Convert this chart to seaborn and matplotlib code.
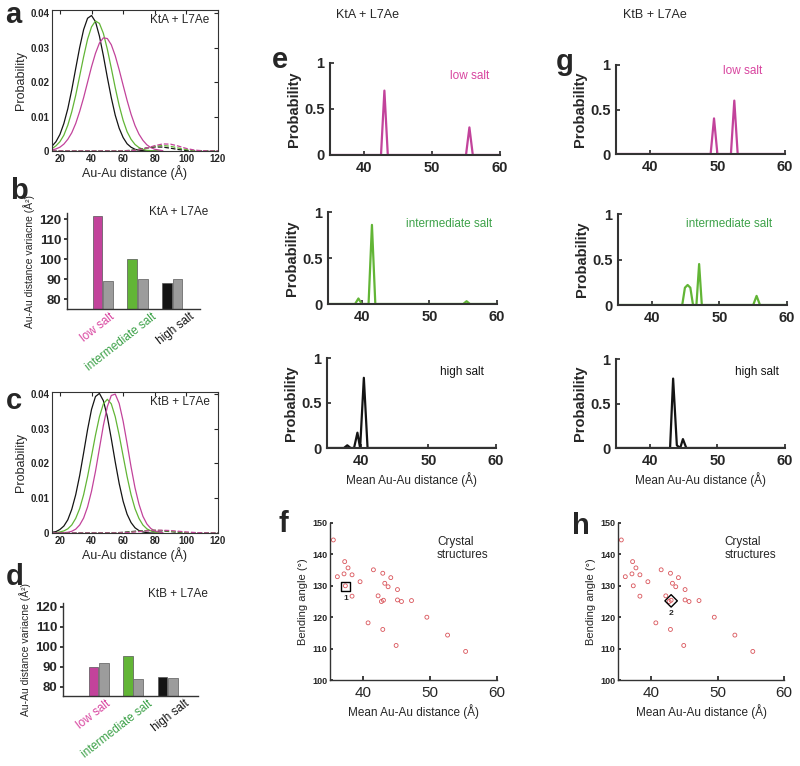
import matplotlib
matplotlib.use("Agg")
import matplotlib.pyplot as plt
import matplotlib.transforms as mtransforms
import pandas as pd
import seaborn as sns

MAGENTA = "#c2439b"
GREEN = "#62b536"
BLACK = "#141414"
GREY = "#9c9c9c"
PINK_TXT = "#d8449f"
GREEN_TXT = "#3ea24a"
RED = "#d9545a"

# ---- panels a / c: Au-Au distance distributions ----
dist_x = [15, 17.5, 20, 22.5, 25, 27.5, 30, 32.5, 35, 37.5, 40, 42.5, 45, 47.5, 50,
          52.5, 55, 57.5, 60, 62.5, 65, 67.5, 70, 72.5, 75, 77.5, 80, 82.5, 85]
a_black = [0.0014, 0.0027, 0.0048, 0.0080, 0.0123, 0.0178, 0.0240, 0.0301, 0.0353, 0.0386,
           0.0394, 0.0376, 0.0334, 0.0277, 0.0214, 0.0155, 0.0104, 0.0066, 0.0039, 0.0021,
           0.0011, 0.0005, 0.0002, 0.0001, 0, 0, 0, 0, 0]
a_green = [0.0007, 0.0015, 0.0027, 0.0046, 0.0075, 0.0114, 0.0162, 0.0218, 0.0274, 0.0325,
           0.0361, 0.0378, 0.0371, 0.0342, 0.0296, 0.0241, 0.0184, 0.0132, 0.0089, 0.0056,
           0.0034, 0.0019, 0.0010, 0.0005, 0.0002, 0.0001, 0, 0, 0]
a_magenta = [0.0003, 0.0006, 0.0011, 0.0020, 0.0034, 0.0053, 0.0080, 0.0115, 0.0155, 0.0200,
             0.0245, 0.0284, 0.0314, 0.0329, 0.0327, 0.0309, 0.0277, 0.0236, 0.0191, 0.0147,
             0.0107, 0.0074, 0.0049, 0.0031, 0.0018, 0.0010, 0.0005, 0.0003, 0.0001]
c_black = [0.0002, 0.0004, 0.0010, 0.0020, 0.0038, 0.0068, 0.0110, 0.0165, 0.0230, 0.0297,
           0.0355, 0.0392, 0.0401, 0.0380, 0.0334, 0.0271, 0.0204, 0.0142, 0.0091, 0.0054,
           0.0030, 0.0015, 0.0007, 0.0003, 0.0001, 0, 0, 0, 0]
c_green = [0, 0.0001, 0.0003, 0.0006, 0.0012, 0.0023, 0.0042, 0.0070, 0.0110, 0.0162,
           0.0221, 0.0281, 0.0334, 0.0371, 0.0384, 0.0371, 0.0334, 0.0281, 0.0221, 0.0162,
           0.0110, 0.0070, 0.0042, 0.0023, 0.0012, 0.0006, 0.0003, 0.0001, 0]
c_magenta = [0, 0, 0, 0.0001, 0.0002, 0.0005, 0.0011, 0.0023, 0.0043, 0.0075,
             0.0120, 0.0177, 0.0243, 0.0309, 0.0363, 0.0395, 0.0399, 0.0372, 0.0321, 0.0257,
             0.0190, 0.0130, 0.0083, 0.0048, 0.0026, 0.0013, 0.0006, 0.0003, 0.0001]

dash_x = [15, 55, 60, 65, 70, 75, 80, 85, 90, 95, 100, 105, 110, 115, 120]
a_dash_magenta = [0, 0, 0, 0.0001, 0.00035, 0.00086, 0.00155, 0.00205, 0.00199, 0.00142,
                  0.00074, 0.00028, 0.00008, 0, 0]
a_dash_green = [0, 0, 0.00003, 0.00014, 0.0004, 0.00086, 0.00137, 0.0016, 0.00137, 0.00086,
                0.0004, 0.00014, 0.00003, 0, 0]
a_dash_black = [0, 0.00001, 0.00006, 0.0002, 0.00049, 0.00089, 0.00117, 0.00114, 0.00081,
                0.00042, 0.00016, 0.00005, 0, 0, 0]
c_dash_magenta = [0, 0, 0.00005, 0.0002, 0.0004, 0.0006, 0.0008, 0.0008, 0.0007, 0.0005,
                  0.0003, 0.00015, 0.00005, 0, 0]
c_dash_green = [0, 0, 0.0001, 0.0003, 0.0005, 0.0007, 0.0008, 0.0007, 0.0005, 0.0003,
                0.00015, 0.00005, 0, 0, 0]
c_dash_black = [0, 0.00005, 0.0002, 0.0004, 0.0006, 0.0007, 0.0007, 0.0006, 0.0004, 0.0002,
                0.0001, 0.00003, 0, 0, 0]

# ---- panels b / d: distance variance ----
salt_levels = ["low salt", "intermediate salt", "high salt"]
b_sim = [121.6, 100.0, 88.3]
b_ref = [89.2, 90.3, 90.1]
d_sim = [89.7, 95.5, 85.0]
d_ref = [91.7, 83.8, 84.3]

# ---- panels e / g: mean distance histograms ----
e_low_x = [35, 42.5, 43, 43.5, 55, 55.5, 56, 60]
e_low_y = [0, 0, 0.70, 0, 0, 0.30, 0, 0]
e_mid_x = [35, 39, 39.5, 40, 41, 41.5, 42, 55, 55.5, 56, 60]
e_mid_y = [0, 0, 0.06, 0, 0, 0.86, 0, 0, 0.03, 0, 0]
e_high_x = [35, 37.5, 38, 38.5, 39, 39.5, 39.9, 40.45, 41, 60]
e_high_y = [0, 0, 0.03, 0, 0, 0.17, 0, 0.78, 0, 0]
g_low_x = [35, 49, 49.5, 50, 52, 52.5, 53, 60]
g_low_y = [0, 0, 0.40, 0, 0, 0.60, 0, 0]
g_mid_x = [35, 44.5, 44.9, 45.3, 45.7, 46.1, 46.6, 47, 47.4, 55, 55.5, 56, 60]
g_mid_y = [0, 0, 0.19, 0.22, 0.19, 0, 0, 0.45, 0, 0, 0.10, 0, 0]
g_high_x = [35, 43, 43.45, 44, 44.5, 44.9, 45.4, 60]
g_high_y = [0, 0, 0.78, 0.03, 0, 0.10, 0, 0]

# ---- panels f / h: crystal structures ----
crystal_dist = [35.5, 37.2, 37.7, 36.1, 37.1, 38.3, 39.5, 37.3, 38.3, 41.5, 42.9, 44.1, 43.2,
                43.7, 45.1, 42.2, 42.7, 43.0, 45.1, 45.7, 47.2, 49.5, 40.7, 42.9, 52.6, 44.9, 55.3]
crystal_angle = [144.6, 137.7, 135.7, 132.9, 133.8, 133.5, 131.3, 130.0, 126.7, 135.1, 134.0,
                 132.6, 130.8, 129.7, 128.8, 126.8, 125.0, 125.4, 125.5, 125.0, 125.3, 120.0,
                 118.2, 116.1, 114.3, 111.0, 109.1]
f_pick = (37.3, 129.8)
h_pick = (43.0, 125.2)

sns.set_theme(style="white")
plt.rcParams["font.family"] = ["Liberation Sans", "DejaVu Sans"]
plt.rcParams["axes.edgecolor"] = "#333333"

fig = plt.figure(figsize=(8, 7.66), dpi=100)
W, H = 800, 766


def add_ax(left, top, right, bottom):
    return fig.add_axes([left / W, 1 - bottom / H, (right - left) / W, (bottom - top) / H])


def dist_panel(ax, solids, dashes, tag):
    for ys, col in solids:
        sns.lineplot(x=dist_x, y=ys, color=col, lw=0.9, ax=ax, estimator=None, sort=False)
    for ys, col in dashes:
        sns.lineplot(x=dash_x, y=ys, color=col, lw=0.9, ls="--", ax=ax,
                     estimator=None, sort=False)
    ax.set_xlim(15, 120)
    ax.set_xticks([20, 40, 60, 80, 100, 120])
    ax.set_yticks([0, 0.01, 0.02, 0.03, 0.04])
    ax.set_yticklabels(["0", "0.01", "0.02", "0.03", "0.04"])
    ax.tick_params(direction="in", top=True, right=True, length=3, width=0.8,
                   labelsize=7, pad=2)
    for t in ax.get_xticklabels() + ax.get_yticklabels():
        t.set_fontweight("bold")
    for s in ax.spines.values():
        s.set_linewidth(0.8)
    ax.set_ylabel("Probability", fontsize=9, labelpad=2)
    ax.text(0.95, 0.93, tag, transform=ax.transAxes, ha="right", va="center", fontsize=8.5)


def bar_panel(ax, sim, ref, ylim, xlim):
    df = pd.DataFrame({"salt": salt_levels * 2, "value": sim + ref,
                       "series": ["sim"] * 3 + ["ref"] * 3})
    sns.barplot(data=df, x="salt", y="value", hue="series", order=salt_levels,
                hue_order=["sim", "ref"], palette=[MAGENTA, GREY], width=0.6, gap=0.06,
                saturation=1, legend=False, ax=ax)
    for patch, col in zip(ax.containers[0], [MAGENTA, GREEN, BLACK]):
        patch.set_facecolor(col)
        patch.set_edgecolor("#555555")
        patch.set_linewidth(0.5)
    for patch in ax.containers[1]:
        patch.set_edgecolor("#6e6e6e")
        patch.set_linewidth(0.6)
    ax.set_ylim(*ylim)
    ax.set_xlim(*xlim)
    ax.set_yticks([80, 90, 100, 110, 120])
    ax.tick_params(axis="y", labelsize=9.5, length=2, pad=2, left=True, direction="out")
    ax.tick_params(axis="x", length=0, pad=1)
    for t in ax.get_yticklabels():
        t.set_fontweight("bold")
    ax.set_xlabel("")
    ax.set_ylabel("Au-Au distance variacne (Å²)", fontsize=7.5, labelpad=3)
    sns.despine(ax=ax)
    for s in ["left", "bottom"]:
        ax.spines[s].set_linewidth(1.0)
    ax.set_xticks(range(3))
    ax.set_xticklabels(salt_levels, rotation=38, ha="right", rotation_mode="anchor",
                       fontsize=8.5)
    for t, col, dx in zip(ax.get_xticklabels(), [PINK_TXT, GREEN_TXT, BLACK], [7, 14, 17]):
        t.set_color(col)
        shift = mtransforms.ScaledTranslation(dx / 100, 0, fig.dpi_scale_trans)
        t.set_transform(t.get_transform() + shift)


def hist_panel(ax, xs, ys, col, label, label_col, label_pos, show_xlabel=False):
    sns.lineplot(x=xs, y=ys, color=col, lw=1.6, ax=ax, estimator=None, sort=False)
    ax.set_xlim(35, 60)
    ax.set_ylim(0, 1)
    ax.set_xticks([40, 50, 60])
    ax.set_yticks([0, 0.5, 1])
    ax.set_yticklabels(["0", "0.5", "1"])
    ax.tick_params(direction="in", length=3, width=1.2, labelsize=10.5, pad=4,
                   left=True, bottom=True)
    for t in ax.get_xticklabels() + ax.get_yticklabels():
        t.set_fontweight("bold")
    sns.despine(ax=ax)
    for s in ["left", "bottom"]:
        ax.spines[s].set_linewidth(1.5)
    ax.set_ylabel("Probability", fontsize=10.5, fontweight="bold", labelpad=2)
    ax.text(label_pos[0], label_pos[1], label, transform=ax.transAxes, ha="center",
            va="center", fontsize=8.5, color=label_col)
    if show_xlabel:
        ax.set_xlabel("Mean Au-Au distance (Å)", fontsize=8.5, labelpad=3)


def crystal_panel(ax, pick, marker, num):
    sns.scatterplot(x=crystal_dist, y=crystal_angle, marker="o", s=8, facecolor="none",
                    edgecolor=RED, linewidth=0.6, ax=ax)
    sns.scatterplot(x=[pick[0]], y=[pick[1]], marker=marker, s=40, facecolor="none",
                    edgecolor="black", linewidth=1.0, ax=ax)
    ax.annotate(num, pick, xytext=(0, -9), textcoords="offset points", ha="center",
                va="center", fontsize=6, fontweight="bold")
    ax.set_xlim(35, 60)
    ax.set_ylim(100, 150)
    ax.set_xticks([40, 50, 60])
    ax.set_yticks([100, 110, 120, 130, 140, 150])
    ax.tick_params(axis="y", direction="in", length=2, labelsize=6.5, pad=2, left=True)
    ax.tick_params(axis="x", direction="in", length=3, labelsize=11, pad=4, bottom=True)
    for t in ax.get_yticklabels():
        t.set_fontweight("bold")
    sns.despine(ax=ax)
    for s in ["left", "bottom"]:
        ax.spines[s].set_linewidth(1.0)
    ax.set_ylabel("Bending angle (°)", fontsize=8, labelpad=3)
    ax.set_xlabel("Mean Au-Au distance (Å)", fontsize=8.5, labelpad=3)
    ax.text(0.64, 0.84, "Crystal\nstructures", transform=ax.transAxes, ha="left",
            va="center", fontsize=8.5, linespacing=1.1)


# a
ax_a = add_ax(52, 10, 218, 151)
dist_panel(ax_a, [(a_black, BLACK), (a_green, GREEN), (a_magenta, MAGENTA)],
           [(a_dash_black, BLACK), (a_dash_green, GREEN), (a_dash_magenta, MAGENTA)],
           "KtA + L7Ae")
ax_a.set_ylim(0, 0.041)
ax_a.set_xlabel("Au-Au distance (Å)", fontsize=9, labelpad=1)

# b
ax_b = add_ax(67, 213, 200, 309)
bar_panel(ax_b, b_sim, b_ref, (75.2, 123.2), (-1.03, 2.8))
fig.text(208 / W, 1 - 212 / H, "KtA + L7Ae", ha="right", va="center", fontsize=8.5)

# c
ax_c = add_ax(52, 392, 218, 533)
dist_panel(ax_c, [(c_black, BLACK), (c_green, GREEN), (c_magenta, MAGENTA)],
           [(c_dash_black, BLACK), (c_dash_green, GREEN), (c_dash_magenta, MAGENTA)],
           "KtB + L7Ae")
ax_c.set_ylim(0, 0.0405)
ax_c.set_xlabel("Au-Au distance (Å)", fontsize=9, labelpad=1)

# d
ax_d = add_ax(63, 603, 198, 696)
bar_panel(ax_d, d_sim, d_ref, (75.3, 121.9), (-1.03, 2.88))
fig.text(208 / W, 1 - 594 / H, "KtB + L7Ae", ha="right", va="center", fontsize=8.5)

# e
ax_e1 = add_ax(330, 63, 500, 155)
hist_panel(ax_e1, e_low_x, e_low_y, MAGENTA, "low salt", PINK_TXT, (0.82, 0.86))
ax_e2 = add_ax(328, 212, 497, 304)
hist_panel(ax_e2, e_mid_x, e_mid_y, GREEN, "intermediate salt", GREEN_TXT, (0.716, 0.87))
ax_e3 = add_ax(327, 358, 496, 448)
hist_panel(ax_e3, e_high_x, e_high_y, BLACK, "high salt", BLACK, (0.80, 0.84),
           show_xlabel=True)
fig.text(368 / W, 1 - 15 / H, "KtA + L7Ae", ha="center", va="center", fontsize=9)

# g
ax_g1 = add_ax(616, 65, 785, 154)
hist_panel(ax_g1, g_low_x, g_low_y, MAGENTA, "low salt", PINK_TXT, (0.75, 0.93))
ax_g2 = add_ax(618, 214, 787, 305)
hist_panel(ax_g2, g_mid_x, g_mid_y, GREEN, "intermediate salt", GREEN_TXT, (0.657, 0.89))
ax_g3 = add_ax(616, 359, 785, 448)
hist_panel(ax_g3, g_high_x, g_high_y, BLACK, "high salt", BLACK, (0.834, 0.85),
           show_xlabel=True)
fig.text(655 / W, 1 - 15 / H, "KtB + L7Ae", ha="center", va="center", fontsize=9)

# f / h
ax_f = add_ax(330, 523, 497, 680)
crystal_panel(ax_f, f_pick, "s", "1")
ax_h = add_ax(618, 523, 784, 680)
crystal_panel(ax_h, h_pick, "D", "2")

for letter, (px, py) in {"a": (13, 15), "b": (19, 191), "c": (14, 401), "d": (15, 577),
                         "e": (280, 60), "g": (565, 62), "f": (283, 524),
                         "h": (581, 526)}.items():
    fig.text(px / W, 1 - py / H, letter, ha="center", va="center", fontsize=21,
             fontweight="bold")

fig.savefig("out.png", dpi=100)
